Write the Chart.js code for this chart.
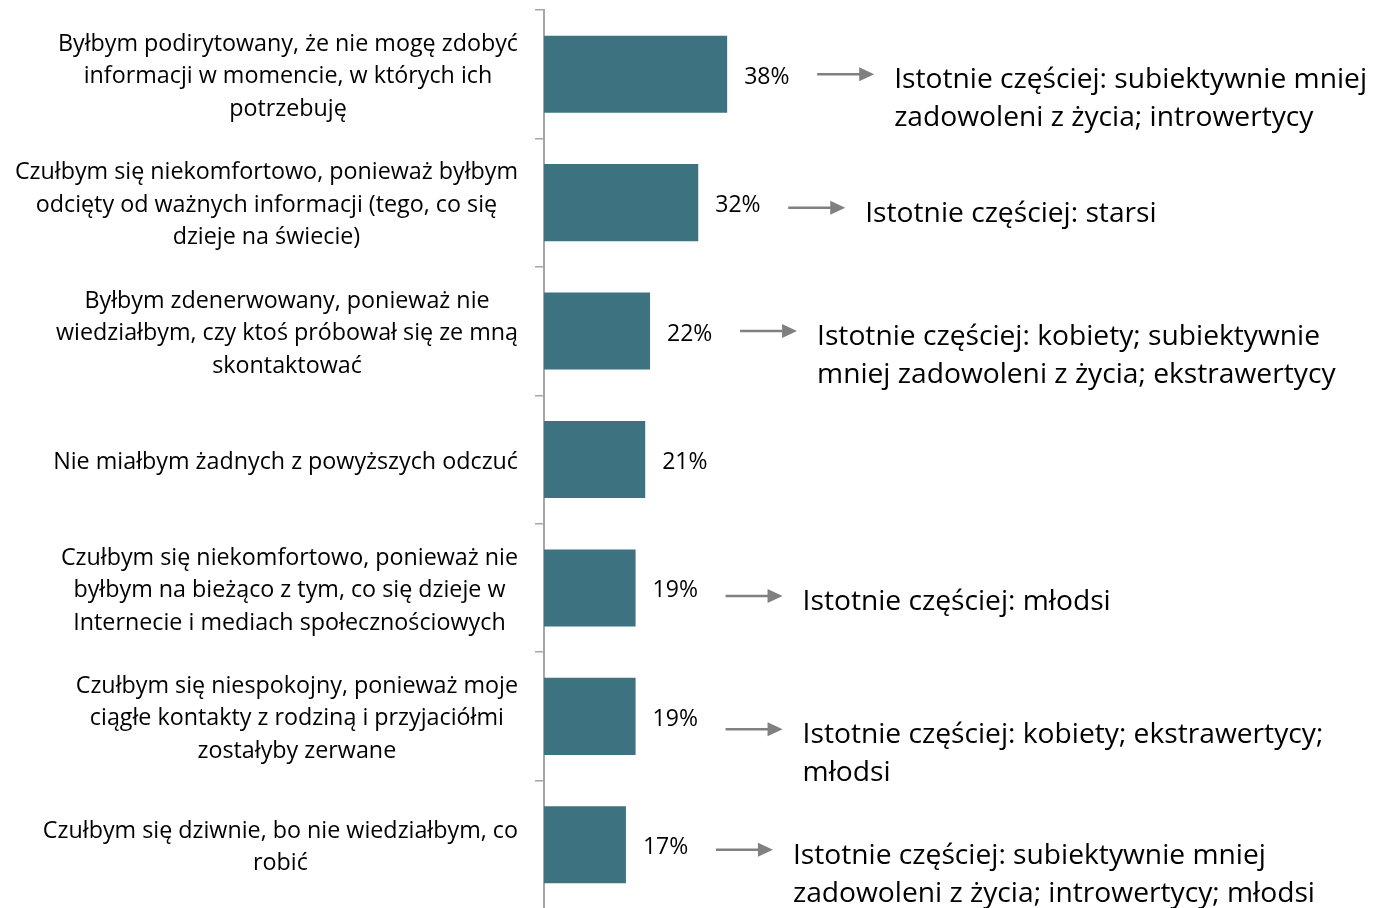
<!DOCTYPE html>
<html lang="pl">
<head>
<meta charset="utf-8">
<title>Odczucia</title>
<script src="https://cdn.jsdelivr.net/npm/chart.js@4/dist/chart.umd.min.js"></script>
<style>
  html, body { margin: 0; padding: 0; background: #fff; overflow: hidden; }
  #wrap { position: relative; width: 1373px; height: 912px; }
</style>
</head>
<body>
<div id="wrap"><canvas id="feelingsChart"></canvas></div>
<script>
// Category labels, already broken into lines
const categories = [
    ['Byłbym podirytowany, że nie mogę zdobyć', 'informacji w momencie, w których ich', 'potrzebuję'],
    ['Czułbym się niekomfortowo, ponieważ byłbym', 'odcięty od ważnych informacji (tego, co się', 'dzieje na świecie)'],
    ['Byłbym zdenerwowany, ponieważ nie', 'wiedziałbym, czy ktoś próbował się ze mną', 'skontaktować'],
    ['Nie miałbym żadnych z powyższych odczuć'],
    ['Czułbym się niekomfortowo, ponieważ nie', 'byłbym na bieżąco z tym, co się dzieje w', 'Internecie i mediach społecznościowych'],
    ['Czułbym się niespokojny, ponieważ moje', 'ciągłe kontakty z rodziną i przyjaciółmi', 'zostałyby zerwane'],
    ['Czułbym się dziwnie, bo nie wiedziałbym, co', 'robić']
];
const values = [38, 32, 22, 21, 19, 19, 17];
const notes = [
    ['Istotnie częściej: subiektywnie mniej', 'zadowoleni z życia; introwertycy'],
    ['Istotnie częściej: starsi'],
    ['Istotnie częściej: kobiety; subiektywnie', 'mniej zadowoleni z życia; ekstrawertycy'],
    [],
    ['Istotnie częściej: młodsi'],
    ['Istotnie częściej: kobiety; ekstrawertycy;', 'młodsi'],
    ['Istotnie częściej: subiektywnie mniej', 'zadowoleni z życia; introwertycy; młodsi']
];

const FONT = '"Open Sans", "Noto Sans", sans-serif';
// vertical nudge of each note's first line against the bar centre
const noteShift = [3, 8, 3, 0, 11, 16, 8];

// multi-line category labels: right-aligned block, lines centred inside it
const categoryLabels = {
    id: 'categoryLabels',
    afterDraw(chart) {
        const ctx = chart.ctx;
        const y = chart.scales.y;
        const right = chart.chartArea.left - 26;
        ctx.save();
        ctx.font = '23.3px ' + FONT;
        ctx.fillStyle = '#000';
        ctx.textAlign = 'center';
        ctx.textBaseline = 'middle';
        categories.forEach((lines, i) => {
            const w = Math.max(...lines.map(l => ctx.measureText(l).width));
            const cx = right - w / 2;
            const cy = y.getPixelForValue(i) + 2.5;
            const lh = 32.5;
            lines.forEach((l, k) => {
                ctx.fillText(l, cx, cy + (k - (lines.length - 1) / 2) * lh);
            });
        });
        ctx.restore();
    }
};

// value labels, arrows and the notes next to them
const barNotes = {
    id: 'barNotes',
    afterDatasetsDraw(chart) {
        const ctx = chart.ctx;
        const meta = chart.getDatasetMeta(0);
        ctx.save();
        meta.data.forEach((bar, i) => {
            const endX = bar.x;
            const cy = bar.y;
            ctx.font = '23px ' + FONT;
            ctx.fillStyle = '#000';
            ctx.textAlign = 'left';
            ctx.textBaseline = 'middle';
            ctx.fillText(values[i] + '%', endX + 17, cy + 3);

            if (!notes[i].length) return;
            const ty = cy + noteShift[i];
            const ay = ty - 3;
            const ax0 = endX + 90;
            const ax1 = ax0 + 57;
            ctx.strokeStyle = '#808080';
            ctx.fillStyle = '#808080';
            ctx.lineWidth = 2.5;
            ctx.beginPath();
            ctx.moveTo(ax0, ay);
            ctx.lineTo(ax1 - 12, ay);
            ctx.stroke();
            ctx.beginPath();
            ctx.moveTo(ax1, ay);
            ctx.lineTo(ax1 - 15, ay - 7);
            ctx.lineTo(ax1 - 15, ay + 7);
            ctx.closePath();
            ctx.fill();

            ctx.font = '28.2px ' + FONT;
            ctx.fillStyle = '#000';
            notes[i].forEach((l, k) => {
                ctx.fillText(l, ax1 + 20, ty + 3 + k * 38);
            });
        });
        ctx.restore();
    }
};

new Chart(document.getElementById('feelingsChart'), {
    type: 'bar',
    data: {
        labels: categories,
        datasets: [{
            data: values,
            backgroundColor: '#3D7380',
            borderWidth: 0,
            barPercentage: 0.6,
            categoryPercentage: 1
        }]
    },
    options: {
        indexAxis: 'y',
        responsive: true,
        maintainAspectRatio: false,
        animation: false,
        layout: { padding: { top: 10, right: 347, bottom: 3, left: 0 } },
        scales: {
            x: {
                display: false,
                min: 0,
                max: 100
            },
            y: {
                afterFit(scale) { scale.width = 544; },
                ticks: { display: false },
                grid: {
                    drawOnChartArea: false,
                    drawTicks: true,
                    tickLength: 9,
                    color: '#A6A6A6',
                    lineWidth: 1.5
                },
                border: { color: '#A6A6A6', width: 2 }
            }
        },
        plugins: {
            legend: { display: false },
            tooltip: { enabled: false }
        }
    },
    plugins: [categoryLabels, barNotes]
});
</script>
</body>
</html>
